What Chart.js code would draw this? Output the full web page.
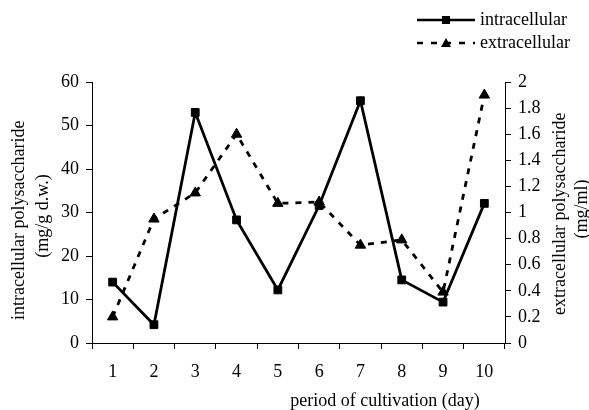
<!DOCTYPE html>
<html>
<head>
<meta charset="utf-8">
<script src="https://cdn.jsdelivr.net/npm/chart.js@4.4.1/dist/chart.umd.min.js"></script>
<style>
  html, body { margin: 0; padding: 0; background: #fff; }
  #wrap { width: 589px; height: 410px; }
</style>
</head>
<body>
<div id="wrap"><canvas id="c" width="589" height="410"></canvas></div>
<script>
const days = ['1', '2', '3', '4', '5', '6', '7', '8', '9', '10'];
const intracellular = [14, 4.2, 53, 28.3, 12.2, 31.6, 55.7, 14.5, 9.4, 32.1];
const extracellular = [0.2, 0.95, 1.15, 1.6, 1.07, 1.08, 0.75, 0.79, 0.39, 1.9];
const seriesNames = ['intracellular', 'extracellular'];
const xTitle = 'period of cultivation (day)';
const yTitle = ['intracellular polysaccharide', '(mg/g d.w.)'];
const y1Title = ['extracellular polysaccharide', '(mg/ml)'];

const FS = 18;
const FONT = 'Liberation Serif, Times New Roman, serif';

const textPlugin = {
  id: 'textPlugin',
  afterDraw(chart) {
    const ctx = chart.ctx;
    const a = chart.chartArea;
    ctx.save();
    ctx.fillStyle = '#000';
    ctx.font = FS + 'px ' + FONT;
    // x title
    ctx.textAlign = 'center';
    ctx.textBaseline = 'middle';
    ctx.fillText(xTitle, a.right - 120, 401);

    // left title (rotated, reading upward), clipped at top like the original
    ctx.save();
    ctx.beginPath();
    ctx.rect(0, 112, 80, 300);
    ctx.clip();
    ctx.translate(19, 320);
    ctx.rotate(-Math.PI / 2);
    ctx.textAlign = 'left';
    ctx.fillText(yTitle[0], 0, 0);
    ctx.restore();
    ctx.save();
    ctx.translate(43, 216);
    ctx.rotate(-Math.PI / 2);
    ctx.textAlign = 'center';
    ctx.fillText(yTitle[1], 0, 0);
    ctx.restore();

    // right title
    ctx.save();
    ctx.beginPath();
    ctx.rect(540, 107, 60, 300);
    ctx.clip();
    ctx.translate(560, 315);
    ctx.rotate(-Math.PI / 2);
    ctx.textAlign = 'left';
    ctx.fillText(y1Title[0], 0, 0);
    ctx.restore();
    ctx.save();
    ctx.translate(582, 209);
    ctx.rotate(-Math.PI / 2);
    ctx.textAlign = 'center';
    ctx.fillText(y1Title[1], 0, 0);
    ctx.restore();

    // legend
    ctx.strokeStyle = '#000';
    ctx.lineWidth = 2.5;
    const lx0 = 417, lx1 = 475, mx = 446;
    // row 1
    ctx.beginPath();
    ctx.moveTo(lx0, 20); ctx.lineTo(lx1, 20); ctx.stroke();
    ctx.fillRect(mx - 4, 16, 8, 8);
    ctx.textAlign = 'left';
    ctx.fillText(seriesNames[0], 480, 20);
    // row 2
    ctx.setLineDash([6, 8]);
    ctx.beginPath();
    ctx.moveTo(lx0, 43); ctx.lineTo(lx1, 43); ctx.stroke();
    ctx.setLineDash([]);
    ctx.beginPath();
    ctx.moveTo(mx, 38); ctx.lineTo(mx + 5, 47); ctx.lineTo(mx - 5, 47); ctx.closePath();
    ctx.fill();
    ctx.fillText(seriesNames[1], 480, 43);
    ctx.restore();
  }
};

const tickFont = { family: FONT, size: FS };

new Chart(document.getElementById('c'), {
  type: 'line',
  data: {
    labels: days,
    datasets: [
      {
        label: seriesNames[0],
        data: intracellular,
        yAxisID: 'y',
        borderColor: '#000',
        backgroundColor: '#000',
        borderWidth: 2.8,
        pointStyle: 'rect',
        pointRadius: 5.5,
        pointBorderWidth: 1,
        pointBackgroundColor: '#000',
        pointBorderColor: '#000',
        tension: 0,
        fill: false
      },
      {
        label: seriesNames[1],
        data: extracellular,
        yAxisID: 'y1',
        borderColor: '#000',
        backgroundColor: '#000',
        borderWidth: 2.8,
        borderDash: [6, 7],
        pointStyle: 'triangle',
        pointRadius: 6,
        pointBorderWidth: 1,
        pointBackgroundColor: '#000',
        pointBorderColor: '#000',
        tension: 0,
        fill: false
      }
    ]
  },
  options: {
    responsive: false,
    animation: false,
    devicePixelRatio: 1,
    layout: { padding: { top: 82, left: 0, right: 0, bottom: 0 } },
    plugins: {
      legend: { display: false },
      tooltip: { enabled: false },
      title: { display: false }
    },
    scales: {
      x: {
        type: 'category',
        offset: true,
        grid: { display: true, offset: true, drawOnChartArea: false, drawTicks: true, tickLength: 6, color: '#000', lineWidth: 1 },
        border: { display: true, color: '#000', width: 1 },
        ticks: { color: '#000', font: tickFont, padding: 12, maxRotation: 0 },
        afterFit(s) { s.height = 67; }
      },
      y: {
        position: 'left',
        min: 0, max: 60,
        ticks: { stepSize: 10, color: '#000', font: tickFont, padding: 7 },
        grid: { drawOnChartArea: false, drawTicks: true, tickLength: 6, color: '#000' },
        border: { display: true, color: '#000', width: 1 },
        afterFit(s) { s.width = 92; }
      },
      y1: {
        position: 'right',
        min: 0, max: 2,
        ticks: {
          stepSize: 0.2, color: '#000', font: tickFont, padding: 7,
          callback: (v) => String(Math.round(v * 10) / 10)
        },
        grid: { drawOnChartArea: false, drawTicks: true, tickLength: 6, color: '#000' },
        border: { display: true, color: '#000', width: 1 },
        afterFit(s) { s.width = 84; }
      }
    }
  },
  plugins: [textPlugin]
});
</script>
</body>
</html>
